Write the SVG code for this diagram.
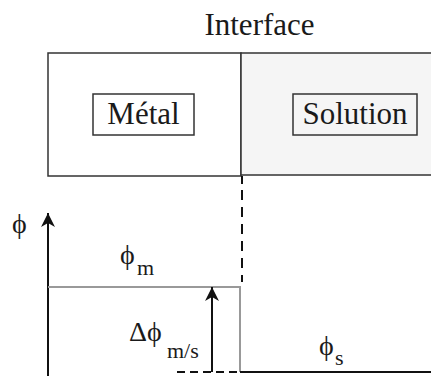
<svg xmlns="http://www.w3.org/2000/svg" width="431" height="376" viewBox="0 0 431 376">
<style>
text{font-family:"Liberation Serif","Times New Roman",serif;fill:#1a1a1a}
.big{font-size:31px;text-anchor:middle}
.phi{font-size:28px}
.sub{font-size:22px}
.box{fill:none;stroke:#333;stroke-width:1.5}
.ax{stroke:#111;stroke-width:2;fill:none}
.gr{stroke:#999;stroke-width:2;fill:none}
</style>
<defs>
<marker id="ah" viewBox="-15 -8 16 16" refX="0" refY="0" markerWidth="16" markerHeight="16" markerUnits="userSpaceOnUse" orient="auto">
<path d="M0,0 L-14,-7 L-10,0 L-14,7 Z" fill="#111"/>
</marker>
</defs>
<rect width="431" height="376" fill="#fff"/>
<text class="big" x="259.5" y="35">Interface</text>
<g id="metal">
<rect class="box" x="48" y="53" width="193" height="123"/>
<rect class="box" x="93" y="94" width="101" height="41"/>
<text class="big" x="143.5" y="124">Métal</text>
</g>
<g id="solution">
<rect x="241" y="53" width="192" height="122" fill="#f5f5f5" stroke="#333" stroke-width="1.5"/>
<rect class="box" x="293" y="94" width="124" height="41"/>
<text class="big" x="355" y="124">Solution</text>
</g>
<g id="connectors">
<line class="ax" x1="242" y1="176" x2="242" y2="184" stroke-width="1.5"/>
<line class="ax" x1="242" y1="190" x2="242" y2="282" stroke-width="1.5" stroke-dasharray="10,7"/>
<line class="ax" x1="48" y1="376" x2="48" y2="213" marker-end="url(#ah)"/>
<polyline class="gr" points="48,287 240,287 240,372"/>
<line class="ax" x1="240" y1="372" x2="431" y2="372"/>
<line class="ax" x1="177" y1="372" x2="240" y2="372" stroke-dasharray="8,5"/>
<line class="ax" x1="212" y1="372" x2="212" y2="287" marker-end="url(#ah)"/>
</g>
<g id="labels">
<text class="phi" x="12" y="233">ϕ</text>
<text class="phi" x="120" y="264">ϕ</text>
<text class="sub" x="137" y="275">m</text>
<text class="phi" x="129" y="341">Δϕ</text>
<text class="sub" x="167" y="358">m/s</text>
<text class="phi" x="319" y="355">ϕ</text>
<text class="sub" x="335" y="365">s</text>
</g>
</svg>
